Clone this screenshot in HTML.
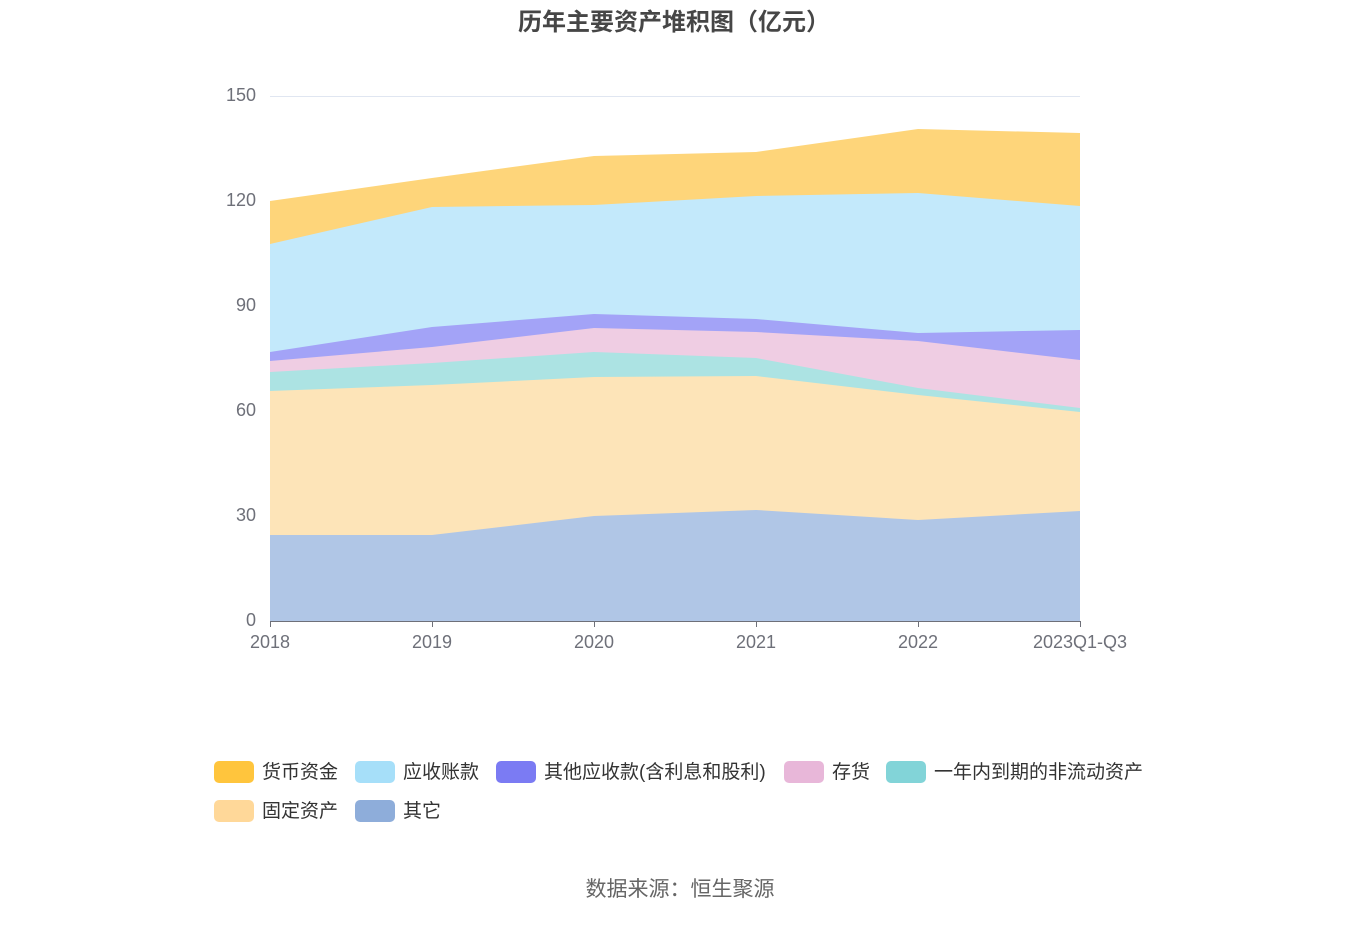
<!DOCTYPE html>
<html><head><meta charset="utf-8"><style>
body{margin:0;background:#fff;font-family:"Liberation Sans","Noto Sans CJK SC",sans-serif;}
</style></head><body>
<svg width="1360" height="920" xmlns="http://www.w3.org/2000/svg" font-family="Liberation Sans, Noto Sans CJK SC, sans-serif">
<text x="674" y="30" text-anchor="middle" font-size="24" font-weight="bold" fill="#464646">历年主要资产堆积图（亿元）</text>
<g stroke="#e0e6f1" stroke-width="1">
<line x1="270" y1="96.5" x2="1080" y2="96.5"/><line x1="270" y1="201.5" x2="1080" y2="201.5"/><line x1="270" y1="306.5" x2="1080" y2="306.5"/><line x1="270" y1="411.5" x2="1080" y2="411.5"/><line x1="270" y1="516.5" x2="1080" y2="516.5"/>
</g>
<g font-size="18" fill="#6e7079" text-anchor="end">
<text x="256" y="101">150</text><text x="256" y="206">120</text><text x="256" y="311">90</text><text x="256" y="416">60</text><text x="256" y="521">30</text><text x="256" y="626">0</text>
</g>
<polygon fill="#fed57a" points="270,201 432,178 594,156 756,152 918,129 1080,133 1080,621 270,621"/>
<polygon fill="#c3e9fb" points="270,244 432,207 594,205 756,196 918,193 1080,206 1080,621 270,621"/>
<polygon fill="#a3a3f7" points="270,352 432,327 594,314 756,319 918,333 1080,330 1080,621 270,621"/>
<polygon fill="#efcde3" points="270,361 432,347 594,328 756,332 918,341 1080,360 1080,621 270,621"/>
<polygon fill="#ace3e3" points="270,372 432,363 594,352 756,358 918,388 1080,408 1080,621 270,621"/>
<polygon fill="#fde4b8" points="270,391 432,385 594,377 756,376 918,395 1080,412 1080,621 270,621"/>
<polygon fill="#b0c6e6" points="270,535 432,535 594,516 756,510 918,520 1080,511 1080,621 270,621"/>
<g stroke="#6e7079" stroke-width="1">
<line x1="270" y1="621.5" x2="1080" y2="621.5"/>
<line x1="270.5" y1="621" x2="270.5" y2="627"/><line x1="432.5" y1="621" x2="432.5" y2="627"/><line x1="594.5" y1="621" x2="594.5" y2="627"/><line x1="756.5" y1="621" x2="756.5" y2="627"/><line x1="918.5" y1="621" x2="918.5" y2="627"/><line x1="1080.5" y1="621" x2="1080.5" y2="627"/>
</g>
<g font-size="18" fill="#6e7079" text-anchor="middle">
<text x="270" y="648">2018</text><text x="432" y="648">2019</text><text x="594" y="648">2020</text><text x="756" y="648">2021</text><text x="918" y="648">2022</text><text x="1080" y="648">2023Q1-Q3</text>
</g>
<g font-size="19" fill="#333">
<rect x="214" y="761" width="40" height="22" rx="5" fill="#ffc53d"/><text x="262" y="778">货币资金</text>
<rect x="355" y="761" width="40" height="22" rx="5" fill="#a6dff9"/><text x="403" y="778">应收账款</text>
<rect x="496" y="761" width="40" height="22" rx="5" fill="#7b7bf3"/><text x="544" y="778">其他应收款(含利息和股利)</text>
<rect x="784" y="761" width="40" height="22" rx="5" fill="#e8b7d9"/><text x="832" y="778">存货</text>
<rect x="886" y="761" width="40" height="22" rx="5" fill="#82d4d8"/><text x="934" y="778">一年内到期的非流动资产</text>
<rect x="214" y="800" width="40" height="22" rx="5" fill="#ffd899"/><text x="262" y="817">固定资产</text>
<rect x="355" y="800" width="40" height="22" rx="5" fill="#8eadda"/><text x="403" y="817">其它</text>
</g>
<text x="680" y="896" text-anchor="middle" font-size="21" fill="#666">数据来源：恒生聚源</text>
</svg>
</body></html>
